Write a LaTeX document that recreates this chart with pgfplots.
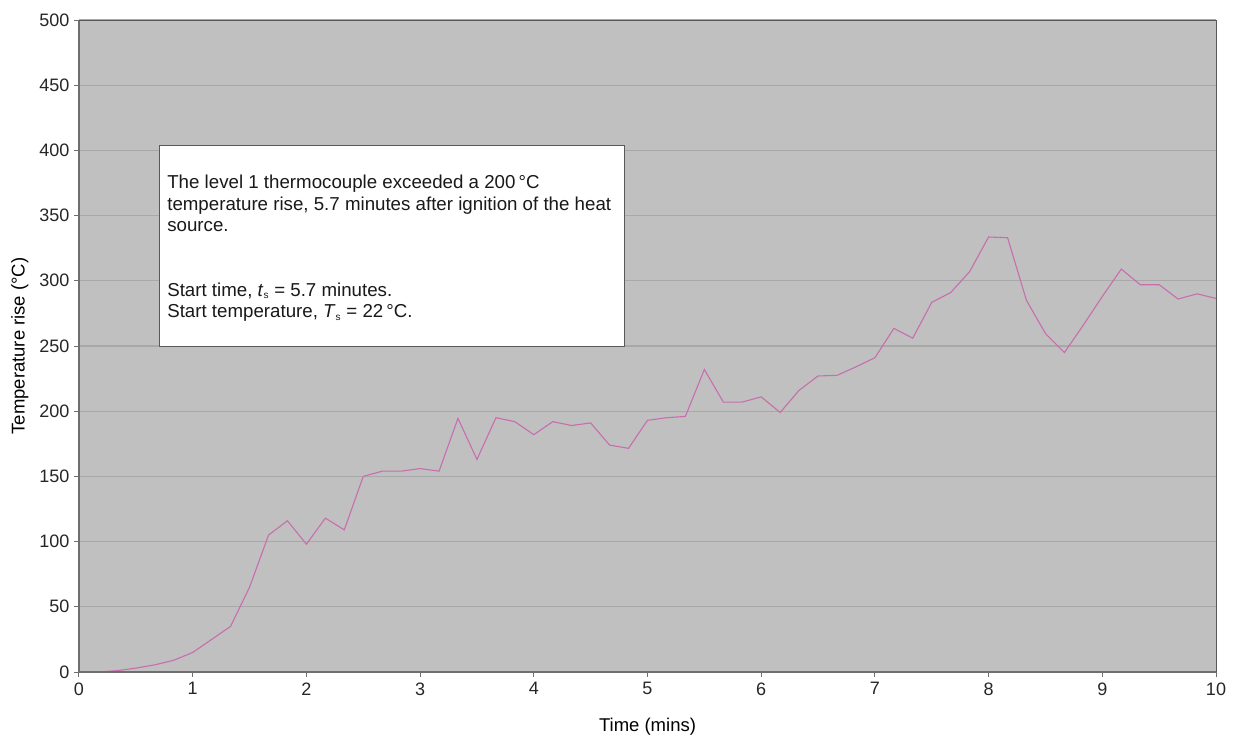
\documentclass[border=0pt]{standalone}
\usepackage{fontspec}
\setmainfont{Liberation Sans}
\usepackage{pgfplots}
\pgfplotsset{compat=1.18}
\definecolor{plotbg}{RGB}{192,192,192}
\definecolor{gridc}{RGB}{168,168,168}
\definecolor{linec}{RGB}{200,110,175}
\definecolor{axc}{RGB}{110,110,110}
\begin{document}
\begin{tikzpicture}
\path[use as bounding box] (-79pt,-62pt) rectangle (1158pt,672pt);
\begin{axis}[
  at={(0pt,0pt)}, anchor=south west,
  scale only axis, width=1137pt, height=652pt,
  xmin=0, xmax=10, ymin=0, ymax=500,
  xtick={0,1,...,10}, ytick={0,50,...,500},
  axis background/.style={fill=plotbg},
  ymajorgrids, grid style={gridc, line width=1.3pt},
  axis line style={axc, line width=0.8pt},
  tick style={axc, line width=1pt},
  tick align=outside, major tick length=5pt,
  xtick pos=bottom, ytick pos=left,
  /pgf/number format/assume math mode=true,
  ticklabel style={font=\fontsize{18}{20}\selectfont, text=black!85},
  xticklabel style={yshift=-2pt},
  yticklabel style={xshift=-1pt},
  xlabel={Time (mins)}, ylabel={Temperature rise (°C)},
  xlabel style={font=\fontsize{18.5}{20}\selectfont, yshift=-16pt},
  ylabel style={font=\fontsize{18.5}{20}\selectfont, yshift=4pt},
  clip=false,
]
\addplot[linec, line width=1.1pt] coordinates {
(0.000,0) (0.167,0) (0.333,1) (0.500,3) (0.667,5.5) (0.833,9) (1.000,15)
(1.167,25) (1.333,35) (1.500,65) (1.667,105) (1.833,116) (2.000,98)
(2.167,118) (2.333,109) (2.500,150) (2.667,154) (2.833,154) (3.000,156)
(3.167,154) (3.333,194.5) (3.500,163) (3.667,195) (3.833,192) (4.000,182)
(4.167,192) (4.333,189) (4.500,191) (4.667,174) (4.833,171.5) (5.000,193)
(5.167,195) (5.333,196) (5.500,232) (5.667,207) (5.833,207) (6.000,211)
(6.167,199) (6.333,216) (6.500,227) (6.667,227.5) (6.833,234) (7.000,241)
(7.167,263.5) (7.333,256) (7.500,283.5) (7.667,291) (7.833,307) (8.000,333.6)
(8.167,333) (8.333,285) (8.500,259.6) (8.667,245) (8.833,266) (9.000,288)
(9.167,309) (9.333,297) (9.500,297) (9.667,286) (9.833,290) (10.000,286.5)
};
\draw[axc, line width=2.2pt] (rel axis cs:0,0) -- (rel axis cs:0,1);
\draw[axc, line width=2.2pt] (rel axis cs:0,0) -- (rel axis cs:1,0);
\draw[axc!80!black, line width=1pt] (rel axis cs:0,1) -- (rel axis cs:1,1) -- (rel axis cs:1,0);
\draw[fill=white, draw=gray!70!black, line width=1pt] (axis cs:0.712,403.4) rectangle (axis cs:4.80,250);
\node[anchor=north west, align=left, inner sep=0pt, text=black!90,
  font=\fontsize{18.7}{21.5}\selectfont] at (axis cs:0.775,381.1)
{The level 1 thermocouple exceeded a 200\,°C\\
temperature rise, 5.7 minutes after ignition of the heat\\
source.\\[43pt]
Start time, \textit{t}\textsubscript{\fontsize{10}{10}\selectfont s} = 5.7 minutes.\\
Start temperature, \textit{T}\textsubscript{\fontsize{10}{10}\selectfont s} = 22\,°C.};
\end{axis}
\end{tikzpicture}
\end{document}
